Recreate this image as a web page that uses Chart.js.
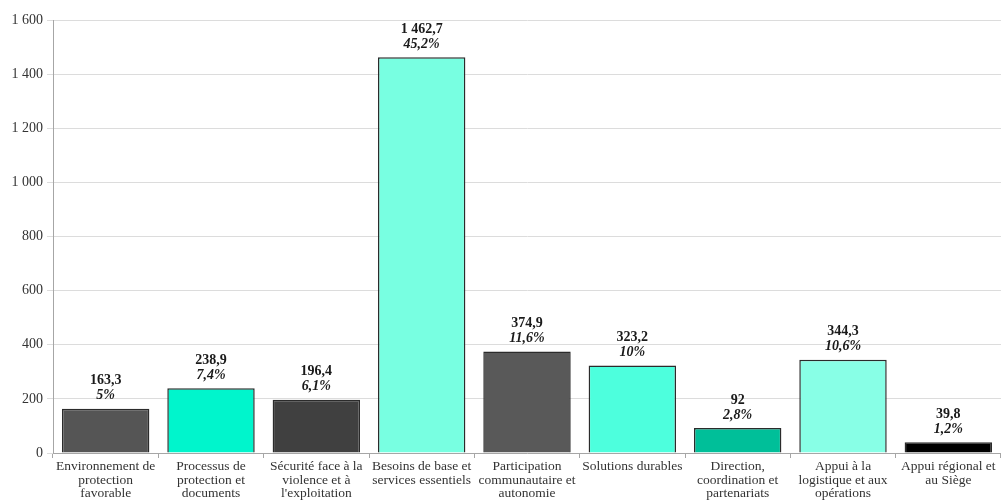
<!DOCTYPE html>
<html>
<head>
<meta charset="utf-8">
<script src="https://cdn.jsdelivr.net/npm/chart.js@4/dist/chart.umd.min.js"></script>
<style>
  html, body { margin: 0; padding: 0; background: #fff; }
  #wrap { width: 1001px; height: 502px; position: relative; }
</style>
</head>
<body>
<div id="wrap"><canvas id="chart"></canvas></div>
<script>
// --- Data ---
const categories = [
  ['Environnement de', 'protection', 'favorable'],
  ['Processus de', 'protection et', 'documents'],
  ['Sécurité face à la', 'violence et à', "l'exploitation"],
  ['Besoins de base et', 'services essentiels'],
  ['Participation', 'communautaire et', 'autonomie'],
  ['Solutions durables'],
  ['Direction,', 'coordination et', 'partenariats'],
  ['Appui à la', 'logistique et aux', 'opérations'],
  ['Appui régional et', 'au Siège']
];
const values = [163.3, 238.9, 196.4, 1462.7, 374.9, 323.2, 92, 344.3, 39.8];
const valueLabels = ['163,3', '238,9', '196,4', '1 462,7', '374,9', '323,2', '92', '344,3', '39,8'];
const percentLabels = ['5%', '7,4%', '6,1%', '45,2%', '11,6%', '10%', '2,8%', '10,6%', '1,2%'];
const barColors = ['#555555', '#00f5cc', '#404040', '#78ffe1', '#595959', '#4dffdd', '#00bf99', '#88ffe6', '#000000'];

const FONT = '"Liberation Serif", "Times New Roman", serif';

// --- Labels above bars ---
const barLabels = {
  id: 'barLabels',
  afterDatasetsDraw(chart) {
    const ctx = chart.ctx;
    const meta = chart.getDatasetMeta(0);
    ctx.save();
    ctx.fillStyle = '#1a1a1a';
    ctx.textAlign = 'center';
    ctx.textBaseline = 'middle';
    meta.data.forEach((bar, i) => {
      ctx.font = 'bold 14px ' + FONT;
      ctx.fillText(valueLabels[i], bar.x, bar.y - 28);
      ctx.font = 'italic bold 14px ' + FONT;
      ctx.fillText(percentLabels[i], bar.x, bar.y - 13);
    });
    ctx.restore();
  }
};

new Chart(document.getElementById('chart'), {
  type: 'bar',
  data: {
    labels: categories,
    datasets: [{
      data: values,
      backgroundColor: barColors,
      borderColor: '#2b2b2b',
      borderWidth: 1.5,
      barPercentage: 0.83,
      categoryPercentage: 1
    }]
  },
  options: {
    responsive: true,
    maintainAspectRatio: false,
    animation: false,
    layout: { padding: { top: 20, right: 0, left: 0, bottom: 0 } },
    plugins: { legend: { display: false }, tooltip: { enabled: false } },
    scales: {
      x: {
        offset: true,
        grid: { offset: true, drawOnChartArea: false, drawTicks: true, tickLength: 5, color: '#a6a6a6' },
        border: { color: '#a6a6a6' },
        ticks: { color: '#333', font: { family: FONT, size: 13.5, lineHeight: 1.0 }, maxRotation: 0, autoSkip: false, padding: 2 },
        afterFit(scale) { scale.height = 49; }
      },
      y: {
        min: 0,
        max: 1600,
        grid: { color: '#dcdcdc', tickLength: 6, drawTicks: true },
        border: { color: '#a6a6a6' },
        ticks: {
          stepSize: 200,
          color: '#333',
          font: { family: FONT, size: 14 },
          padding: 4,
          callback: v => String(v).replace(/\B(?=(\d{3})+(?!\d))/g, ' ')
        },
        afterFit(scale) { scale.width = 53; }
      }
    }
  },
  plugins: [barLabels]
});
</script>
</body>
</html>
